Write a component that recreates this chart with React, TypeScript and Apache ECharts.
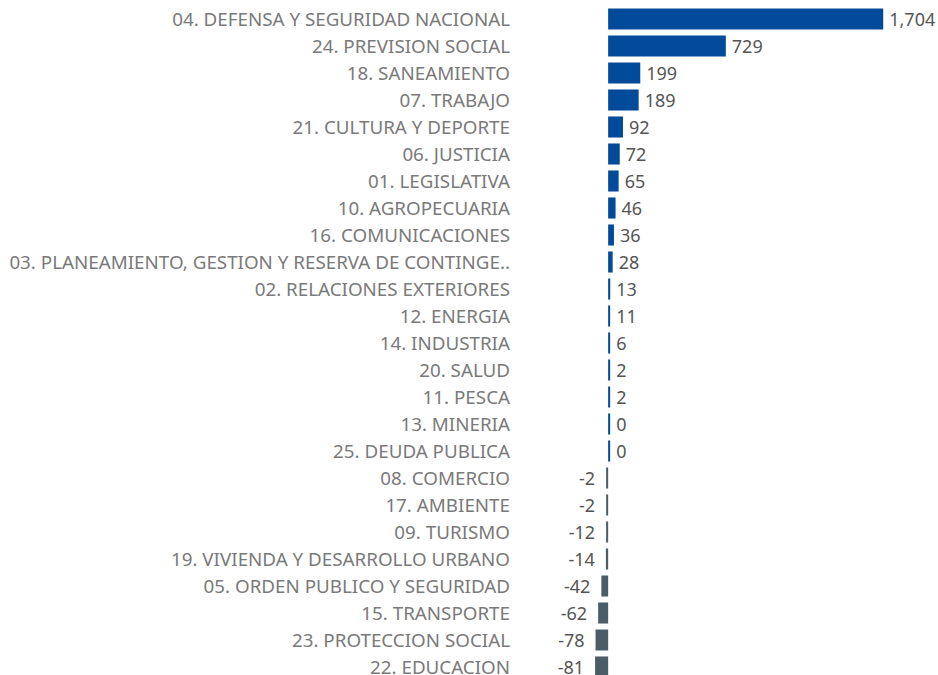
import React, { useEffect, useRef } from "react";
import * as echarts from "echarts";

const categories = [
  "04. DEFENSA Y SEGURIDAD NACIONAL",
  "24. PREVISION SOCIAL",
  "18. SANEAMIENTO",
  "07. TRABAJO",
  "21. CULTURA Y DEPORTE",
  "06. JUSTICIA",
  "01. LEGISLATIVA",
  "10. AGROPECUARIA",
  "16. COMUNICACIONES",
  "03. PLANEAMIENTO, GESTION Y RESERVA DE CONTINGE..",
  "02. RELACIONES EXTERIORES",
  "12. ENERGIA",
  "14. INDUSTRIA",
  "20. SALUD",
  "11. PESCA",
  "13. MINERIA",
  "25. DEUDA PUBLICA",
  "08. COMERCIO",
  "17. AMBIENTE",
  "09. TURISMO",
  "19. VIVIENDA Y DESARROLLO URBANO",
  "05. ORDEN PUBLICO Y SEGURIDAD",
  "15. TRANSPORTE",
  "23. PROTECCION SOCIAL",
  "22. EDUCACION",
];

const values = [
  1704, 729, 199, 189, 92, 72, 65, 46, 36, 28, 13, 11, 6, 2, 2, 0, 0, -2, -2, -12, -14, -42, -62, -78, -81,
];

const POS_COLOR = "#024a9a";
const NEG_COLOR = "#4b5d66";

export default function App() {
  const ref = useRef<HTMLDivElement>(null);
  useEffect(() => {
    document.body.style.margin = "0";
    document.body.style.overflow = "hidden";
    const chart = echarts.init(ref.current!, undefined, { renderer: "svg" });
    const data = values.map((v) => ({
      value: v,
      itemStyle: { color: v >= 0 ? POS_COLOR : NEG_COLOR },
      label: v >= 0 ? { position: "right", distance: 6 } : { position: "left", distance: 11 },
    }));
    chart.setOption({
      animation: false,
      grid: { left: 592, top: 5.5, width: 339, height: 675 },
      xAxis: {
        type: "value",
        min: -100,
        max: 2000,
        show: false,
      },
      yAxis: {
        type: "category",
        data: categories,
        inverse: true,
        axisLine: { show: false },
        axisTick: { show: false },
        splitLine: { show: false },
        axisLabel: {
          margin: 82,
          color: "#7a7a7a",
          fontSize: 18.8,
          lineHeight: 14,
          fontFamily: "Noto Sans",
        },
      },
      series: [
        {
          type: "bar",
          data,
          barCategoryGap: "22%",
          barMinHeight: 2,
          label: {
            show: true,
            color: "#555555",
            fontSize: 18,
            lineHeight: 14,
            fontFamily: "Noto Sans",
            formatter: (p: any) => Number(p.value).toLocaleString("en-US"),
          },
        },
      ],
    });
    return () => chart.dispose();
  }, []);
  return <div ref={ref} style={{ width: 938, height: 690 }} />;
}
